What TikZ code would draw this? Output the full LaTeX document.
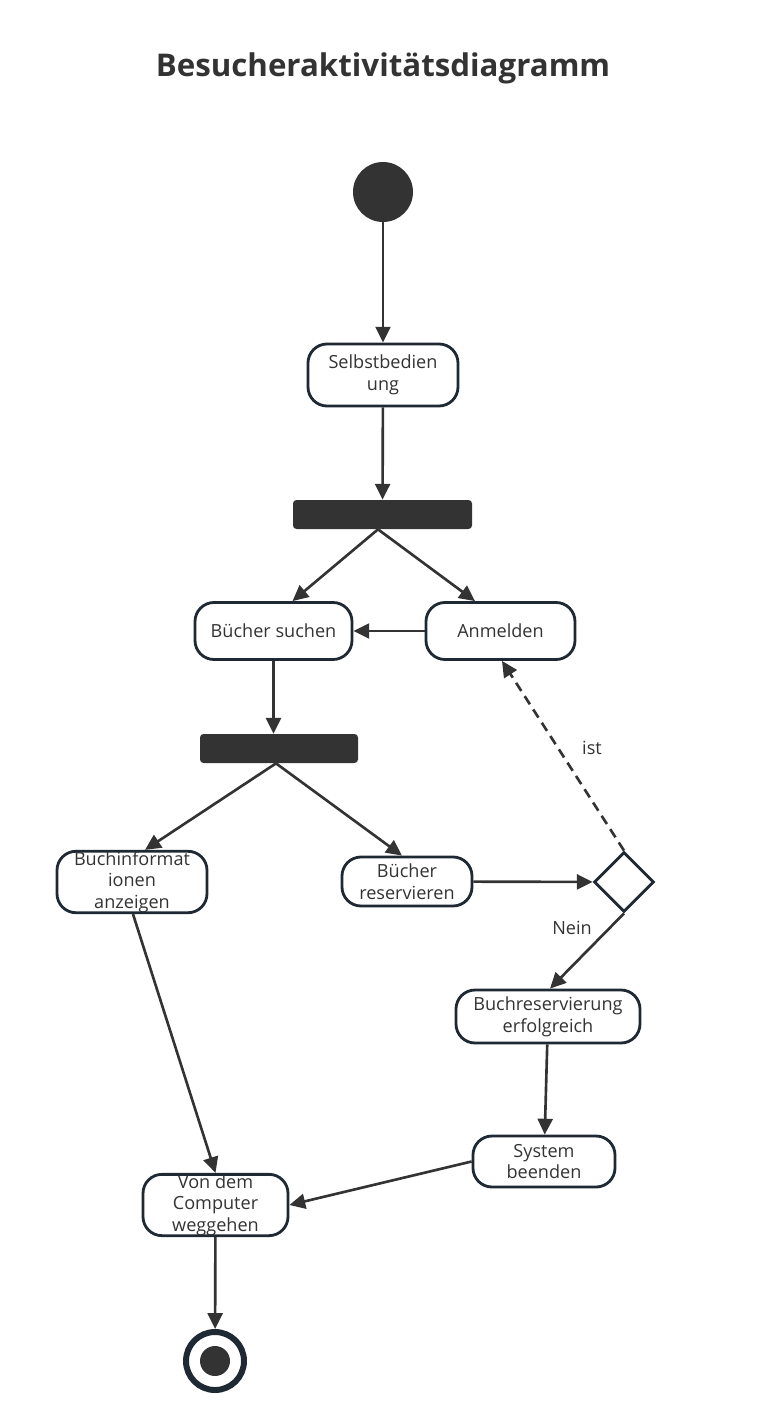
\documentclass[tikz,border=0pt]{standalone}
\usepackage{fontspec}
\setmainfont{Open Sans}
\usetikzlibrary{arrows.meta,shapes.geometric}
\definecolor{ink}{HTML}{333333}
\definecolor{frame}{HTML}{1F2933}
\begin{document}
\begin{tikzpicture}[
        font=\fontsize{10.3}{12.3}\selectfont,
        text=ink,
        act/.style={
            draw=frame,
            line width=1.6pt,
            fill=white,
            rounded corners=0.38cm,
            align=center,
            inner sep=0pt
        },
        bar/.style={
            fill=ink,
            rounded corners=2pt,
            minimum height=0.58cm,
            inner sep=0pt
        },
        arrow/.style={-{Triangle[length=9pt,width=8.5pt]}, draw=ink, line width=1.5pt},
        lbl/.style={font=\fontsize{10.3}{12.3}\selectfont}
    ]

    \useasboundingbox (0,0) rectangle (15.3,-28.56);

    \node[font=\fontsize{17.8}{22}\selectfont\bfseries] (title) at (7.66,-1.36) {Besucheraktivitätsdiagramm};

    \node[circle, fill=ink, minimum size=1.2cm, inner sep=0pt] (start) at (7.66,-3.84) {};
    \node[act, minimum width=3.0cm, minimum height=1.24cm] (selbst) at (7.66,-7.5) {Selbstbedien\\ung};
    \node[bar, minimum width=3.58cm] (fork1) at (7.65,-10.29) {};
    \node[act, minimum width=3.14cm, minimum height=1.14cm] (suchen) at (5.47,-12.62) {Bücher suchen};
    \node[act, minimum width=2.98cm, minimum height=1.14cm] (anmelden) at (10.01,-12.62) {Anmelden};
    \node[bar, minimum width=3.16cm] (fork2) at (5.58,-14.97) {};
    \node[act, minimum width=3.0cm, minimum height=1.16cm] (infos) at (2.64,-17.64) {Buchinformat\\ionen\\anzeigen};
    \node[act, minimum width=2.6cm, minimum height=0.98cm] (reserv) at (8.14,-17.63) {Bücher\\reservieren};
    \node[diamond, draw=frame, line width=1.6pt, fill=white, minimum width=1.2cm, minimum height=1.2cm, inner sep=0pt] (check) at (12.48,-17.64) {};
    \node[act, minimum width=3.68cm, minimum height=1.06cm] (erfolg) at (10.96,-20.33) {Buchreservierung\\erfolgreich};
    \node[act, minimum width=2.84cm, minimum height=1.02cm] (system) at (10.88,-23.23) {System\\beenden};
    \node[act, minimum width=2.9cm, minimum height=1.2cm] (weg) at (4.31,-24.1) {Von dem\\Computer\\weggehen};
    \node[circle, draw=frame, line width=3.4pt, minimum size=1.16cm, inner sep=0pt] (ende) at (4.3,-27.22) {};
    \node[circle, fill=ink, minimum size=0.6cm, inner sep=0pt] (endedot) at (ende) {};

    \draw[arrow] (start) -- (selbst);
    \draw[arrow] (selbst) -- (fork1);
    \draw[arrow] ([xshift=-0.09cm]fork1.south) -- ([xshift=0.38cm]suchen.north);
    \draw[arrow] ([xshift=-0.09cm]fork1.south) -- ([xshift=-0.51cm]anmelden.north);
    \draw[arrow] (anmelden) -- (suchen);
    \draw[arrow] (suchen.south) -- (suchen.south |- fork2.north);
    \draw[arrow] ([xshift=-0.06cm]fork2.south) -- ([xshift=0.26cm]infos.north);
    \draw[arrow] ([xshift=-0.06cm]fork2.south) -- ([xshift=-0.1cm]reserv.north);
    \draw[arrow] (reserv) -- (check);
    \draw[arrow, dash pattern=on 5.5pt off 3.5pt] (check.north) -- ([xshift=0.03cm]anmelden.south);
    \draw[arrow] (check.south) -- ([xshift=0.04cm]erfolg.north);
    \draw[arrow] (erfolg) -- (system);
    \draw[arrow] (system.west) -- (weg.east);
    \draw[arrow] ([xshift=0.02cm]infos.south) -- (weg.north);
    \draw[arrow] (weg) -- (ende);

    \node[lbl] (ist) at (11.84,-14.96) {ist};
    \node[lbl] (nein) at (11.44,-18.56) {Nein};

\end{tikzpicture}
\end{document}
